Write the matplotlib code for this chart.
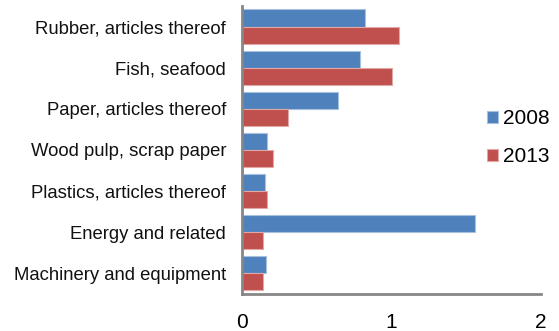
import matplotlib
matplotlib.use("Agg")
import matplotlib.pyplot as plt
import numpy as np

plt.rcParams['font.family'] = ['Liberation Sans', 'DejaVu Sans']

categories = [
    "Rubber, articles thereof",
    "Fish, seafood",
    "Paper, articles thereof",
    "Wood pulp, scrap paper",
    "Plastics, articles thereof",
    "Energy and related",
    "Machinery and equipment",
]
values_2008 = [0.825, 0.79, 0.64, 0.17, 0.155, 1.56, 0.16]
values_2013 = [1.05, 1.0, 0.31, 0.21, 0.17, 0.14, 0.14]
series_labels = ["2008", "2013"]
xticks = [0, 1, 2]

blue = "#4F81BD"
red = "#C0504D"

fig = plt.figure(figsize=(5.59, 3.31), dpi=100)
ax = fig.add_axes([0.433, 0.112, 0.535, 0.870])

y = np.arange(len(categories))
h = 0.415
ax.barh(y - h / 2, values_2008, height=h, color=blue, edgecolor="#A7C0DE",
        linewidth=0.8, label=series_labels[0])
ax.barh(y + h / 2, values_2013, height=h, color=red, edgecolor="#E0A8A6",
        linewidth=0.8, label=series_labels[1])

ax.set_ylim(len(categories) - 0.5, -0.5)
ax.set_xlim(0, 2)
ax.set_yticks(y)
ax.set_yticklabels(categories, fontsize=13.3, color="#111111")
ax.set_xticks(xticks)
ax.set_xticklabels([str(t) for t in xticks], fontsize=15)
ax.tick_params(axis="y", length=0, pad=11.5)
ax.tick_params(axis="x", length=0, pad=14)

for side in ["top", "right"]:
    ax.spines[side].set_visible(False)
for side in ["left", "bottom"]:
    ax.spines[side].set_color("#868686")
    ax.spines[side].set_linewidth(2)

ax.legend(loc="center left", bbox_to_anchor=(0.82, 0.542), frameon=False,
          fontsize=15, handlelength=0.5, handleheight=0.5, handletextpad=0.25,
          labelspacing=0.9, borderaxespad=0, borderpad=0)

fig.savefig("out.png", dpi=100)
